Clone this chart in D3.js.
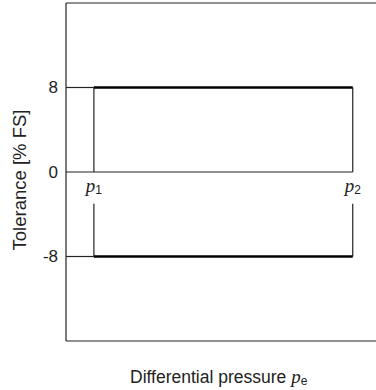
<!DOCTYPE html>
<html><head><meta charset="utf-8">
<script src="https://cdn.jsdelivr.net/npm/d3@7/dist/d3.min.js"></script>
<style>body{margin:0;background:#fff}svg{display:block}</style>
</head><body><svg id="c" width="376" height="390"></svg>
<script>
// data
const pressureLabels = ["1", "2"];        // p1, p2 subscripts
const pressurePositions = [9, 92.5];      // relative position along differential pressure axis (0-100)
const upperLimit = [8, 8];
const lowerLimit = [-8, -8];
const yTicks = [8, 0, -8];
const yDomain = [-16, 16];
const xDomain = [0, 100];
const lowerStemTop = -3;

const svg = d3.select("#c");
const x = d3.scaleLinear().domain(xDomain).range([66, 376]);
const y = d3.scaleLinear().domain(yDomain).range([341, 3]);
const SANS = "Liberation Sans, Arial, sans-serif";
const SERIF = "Liberation Serif, Times New Roman, serif";

const g = svg.append("g");
// frame
g.append("line").attr("x1", x(0)).attr("x2", x(0)).attr("y1", y(16)).attr("y2", y(-16)).attr("stroke", "#222").attr("stroke-width", 1.2);
g.append("line").attr("x1", x(0)).attr("x2", x(100)+2).attr("y1", y(16)).attr("y2", y(16)).attr("stroke", "#222").attr("stroke-width", 1.2);
g.append("line").attr("x1", x(0)).attr("x2", x(100)+2).attr("y1", y(-16)).attr("y2", y(-16)).attr("stroke", "#222").attr("stroke-width", 1.2);

// y axis labels
const yAxis = d3.axisLeft(y).tickValues(yTicks).tickSize(0).tickPadding(8).tickFormat(d => d === -8 ? "-8" : d);
const ya = svg.append("g").attr("transform", `translate(${x(0)},0)`).call(yAxis);
ya.select(".domain").remove();
ya.selectAll("text").attr("font-family", SANS).attr("font-size", 17).attr("fill", "#222");

const p1 = x(pressurePositions[0]), p2 = x(pressurePositions[1]);
const thin = (x1, y1, x2, y2) => g.append("line").attr("x1", x1).attr("y1", y1).attr("x2", x2).attr("y2", y2).attr("stroke", "#222").attr("stroke-width", 1.2);

// reference lines from axis
thin(x(0), y(upperLimit[0]), p1, y(upperLimit[0]));
thin(x(0), y(lowerLimit[0]), p1, y(lowerLimit[0]));
thin(x(0), y(0), p2, y(0));
// verticals
thin(p1, y(upperLimit[0]), p1, y(0));
thin(p2, y(upperLimit[1]), p2, y(0));
thin(p1, y(lowerStemTop), p1, y(lowerLimit[0]));
thin(p2, y(lowerStemTop), p2, y(lowerLimit[1]));

// thick tolerance limits
const line = d3.line().x((d, i) => x(pressurePositions[i])).y(d => y(d));
g.append("path").datum(upperLimit).attr("d", line).attr("stroke", "#000").attr("stroke-width", 2.6).attr("fill", "none");
g.append("path").datum(lowerLimit).attr("d", line).attr("stroke", "#000").attr("stroke-width", 2.6).attr("fill", "none");

// p labels
pressureLabels.forEach((s, i) => {
  const t = svg.append("text").attr("x", x(pressurePositions[i])).attr("y", 192).attr("text-anchor", "middle").attr("fill", "#222");
  t.append("tspan").attr("font-family", SERIF).attr("font-style", "italic").attr("font-size", 19).text("p");
  t.append("tspan").attr("font-family", SANS).attr("font-size", 12).attr("dy", 2).text(s);
});

// axis titles
svg.append("text").attr("transform", "translate(26,180) rotate(-90)").attr("text-anchor", "middle")
  .attr("font-family", SANS).attr("font-size", 18.5).attr("fill", "#222").text("Tolerance [% FS]");
const xt = svg.append("text").attr("x", 130).attr("y", 383).attr("text-anchor", "start").attr("fill", "#222")
  .attr("font-family", SANS).attr("font-size", 17.5);
xt.append("tspan").text("Differential pressure ");
xt.append("tspan").attr("font-family", SERIF).attr("font-style", "italic").attr("font-size", 19).text("p");
xt.append("tspan").attr("font-size", 12).attr("dy", 2).text("e");
</script></body></html>
